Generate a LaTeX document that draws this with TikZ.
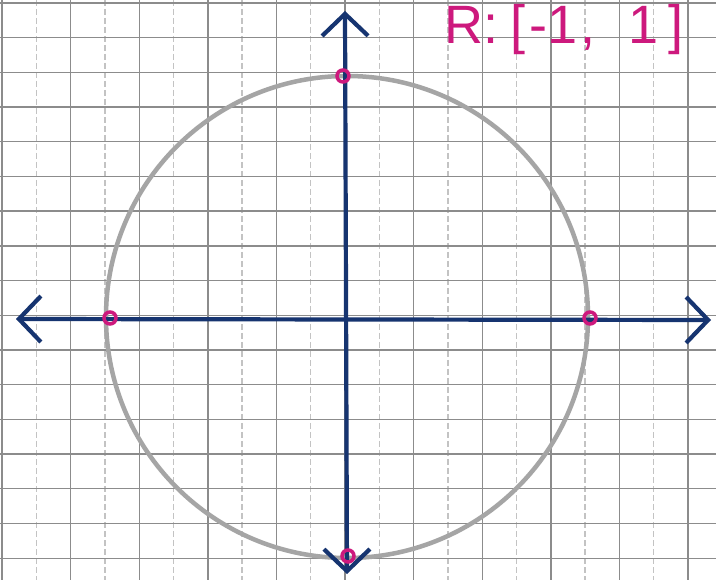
\documentclass[tikz,border=0pt]{standalone}
\usepackage{fontspec}
\setmainfont{Liberation Sans}
\usetikzlibrary{arrows.meta}
\definecolor{gridc}{RGB}{140,140,140}
\definecolor{gridl}{RGB}{195,195,195}
\definecolor{axisc}{RGB}{22,52,112}
\definecolor{circc}{RGB}{165,165,165}
\definecolor{pinkc}{RGB}{205,25,125}
\begin{document}
\begin{tikzpicture}[x=1pt,y=-1pt,
  gridsolid/.style={draw=gridc,line width=1.4pt},
  griddash/.style={draw=gridl,line width=1.3pt,dash pattern=on 6pt off 3pt},
  axisline/.style={draw=axisc,line width=4.2pt,line cap=round,
    arrows={Straight Barb[length=22pt,width=46pt,line width=4.2pt]-Straight Barb[length=22pt,width=46pt,line width=4.2pt]}},
  circ/.style={draw=circc,line width=4.5pt},
  pt/.style={circle,draw=pinkc,line width=3.5pt,inner sep=0pt,minimum size=12pt},
  lab/.style={text=pinkc,font=\fontsize{54}{54}\selectfont,inner sep=0pt,anchor=base west}]
\useasboundingbox (0,0) rectangle (716,580);
\fill[white] (0,0) rectangle (716,580);
% grid
\foreach \k in {0,...,20}{
  \pgfmathsetmacro{\xx}{2+34.3*\k}
  \pgfmathparse{int(mod(\k,2))}
  \ifnum\pgfmathresult=0
    \draw[gridsolid] (\xx,0) -- (\xx,580);
  \else
    \draw[griddash] (\xx,0) -- (\xx,580);
  \fi
}
\foreach \k in {0,...,16}{
  \pgfmathsetmacro{\yy}{3+34.7*\k}
  \draw[gridsolid] (0,\yy) -- (716,\yy);
}
% circle
\coordinate (O) at (347,317);
\draw[circ] (O) circle[radius=241];
% axes
\coordinate (L) at (16,319);
\coordinate (R) at (711,320);
\coordinate (T) at (345,11);
\coordinate (B) at (347,574);
\draw[axisline] (L) -- (R);
\draw[axisline] (B) -- (T);
% points
\node[pt] (p1) at (343,76) {};
\node[pt] (p2) at (110,318) {};
\node[pt] (p3) at (590,318) {};
\node[pt] (p4) at (348,556) {};
% label
\node[lab] (r) at (444,44) {R:\hspace{12pt}[\hspace{4pt}-1\hspace{3pt},\hspace{33pt}1\hspace{10pt}]};
\end{tikzpicture}
\end{document}
